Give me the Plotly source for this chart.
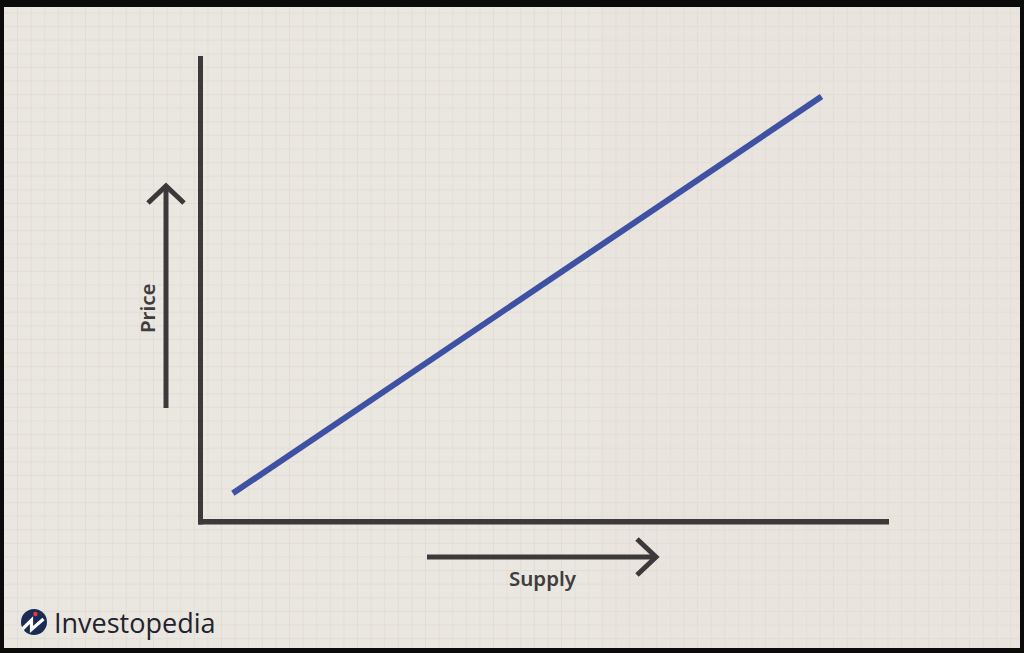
import plotly.graph_objects as go

# ---- data (supply curve, in axis units 0..100) ----
quantity = [4.7, 90.2]
price = [6.1, 91.3]
x_label = "Supply"
y_label = "Price"
brand = "Investopedia"

W, H = 1024, 653
# pixel geometry of the drawn axes
OX, OY = 200.5, 521.7          # origin pixel
XEND, YTOP = 889.0, 56.0       # ends of axes in pixels
sx = (XEND - OX) / 100.0
sy = (OY - YTOP) / 100.0
xr = [-OX / sx, (W - OX) / sx]
yr = [-(H - OY) / sy, OY / sy]


def px(x):
    return x / W


def py(y):
    return 1 - y / H


AXC = "#3b393a"
shapes = []
# black frame
shapes.append(dict(type="rect", xref="paper", yref="paper", x0=0, x1=1, y0=0, y1=1,
                   fillcolor="#0b0b0b", line=dict(width=0), layer="below"))
# card
shapes.append(dict(type="rect", xref="paper", yref="paper", x0=px(4), x1=px(1020), y0=py(648), y1=py(7),
                   fillcolor="#eae7e0", line=dict(width=0), layer="below"))
# faint pink tint towards lower right
shapes.append(dict(type="rect", xref="paper", yref="paper", x0=px(600), x1=px(1020), y0=py(648), y1=py(7),
                   fillcolor="rgba(236,220,215,0.25)", line=dict(width=0), layer="below"))
# grid
step = 13.6
path = ""
gx = 4 + 13.5
while gx < 1020:
    path += f"M{px(gx):.5f},{py(7):.5f}L{px(gx):.5f},{py(648):.5f}"
    gx += step
gy = 7 + 6
while gy < 648:
    path += f"M{px(4):.5f},{py(gy):.5f}L{px(1020):.5f},{py(gy):.5f}"
    gy += step
shapes.append(dict(type="path", xref="paper", yref="paper", path=path,
                   line=dict(color="#e2ded7", width=1), layer="below"))

# axes
shapes.append(dict(type="line", xref="x", yref="y", x0=0, x1=0, y0=-0.6, y1=100,
                   line=dict(color=AXC, width=5)))
shapes.append(dict(type="line", xref="x", yref="y", x0=-0.35, x1=100, y0=0, y1=0,
                   line=dict(color=AXC, width=5.5)))

# price arrow
shapes.append(dict(type="path", xref="paper", yref="paper",
                   path=f"M{px(166)},{py(408)}L{px(166)},{py(186)}",
                   line=dict(color=AXC, width=5)))
shapes.append(dict(type="path", xref="paper", yref="paper",
                   path=f"M{px(148)},{py(203)}L{px(166)},{py(186)}L{px(184)},{py(203)}",
                   line=dict(color=AXC, width=5)))
# supply arrow
shapes.append(dict(type="path", xref="paper", yref="paper",
                   path=f"M{px(427)},{py(557)}L{px(656)},{py(557)}",
                   line=dict(color=AXC, width=5)))
shapes.append(dict(type="path", xref="paper", yref="paper",
                   path=f"M{px(637)},{py(539)}L{px(656)},{py(557)}L{px(637)},{py(575)}",
                   line=dict(color=AXC, width=5)))

# logo icon
shapes.append(dict(type="circle", xref="paper", yref="paper",
                   x0=px(21), x1=px(47), y0=py(635), y1=py(609),
                   fillcolor="#1c2b55", line=dict(width=0)))
shapes.append(dict(type="path", xref="paper", yref="paper",
                   path=(f"M{px(22.5)},{py(629)}L{px(31.5)},{py(620)}L{px(31.5)},{py(629.5)}"
                         f"L{px(43.5)},{py(619)}"),
                   line=dict(color="white", width=3.2)))
shapes.append(dict(type="circle", xref="paper", yref="paper",
                   x0=px(33.2), x1=px(37.6), y0=py(616.2), y1=py(611.8),
                   fillcolor="#e03a3e", line=dict(width=0)))

fig = go.Figure()
fig.add_trace(go.Scatter(x=quantity, y=price, mode="lines",
                         line=dict(color="#3f51a2", width=6), hoverinfo="skip",
                         showlegend=False))

annotations = [
    dict(text=y_label, xref="paper", yref="paper", x=px(147), y=py(308), showarrow=False,
         textangle=-90, font=dict(family="Noto Sans", size=20.5, color="#3f3d3e", weight=600),
         xanchor="center", yanchor="middle"),
    dict(text=x_label, xref="paper", yref="paper", x=px(543), y=py(578), showarrow=False,
         font=dict(family="Noto Sans", size=20.5, color="#3f3d3e", weight=600),
         xanchor="center", yanchor="middle"),
    dict(text=brand, xref="paper", yref="paper", x=px(52), y=py(622), showarrow=False,
         font=dict(family="Open Sans", size=27, color="#22222e", weight=500),
         xanchor="left", yanchor="middle"),
]

fig.update_layout(
    width=W, height=H, autosize=False,
    margin=dict(l=0, r=0, t=0, b=0, pad=0),
    paper_bgcolor="#0b0b0b", plot_bgcolor="rgba(0,0,0,0)",
    xaxis=dict(range=xr, visible=False, fixedrange=True),
    yaxis=dict(range=yr, visible=False, fixedrange=True),
    shapes=shapes, annotations=annotations,
)

fig.write_html("out.html", config={"displayModeBar": False},
               post_script="document.body.style.margin='0';document.body.style.overflow='hidden';")
